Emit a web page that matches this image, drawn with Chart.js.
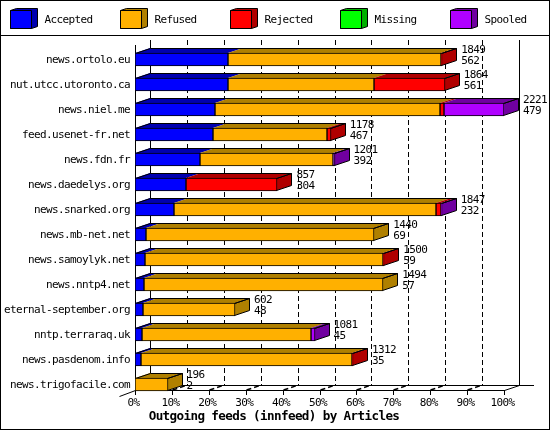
<!DOCTYPE html>
<html>
<head>
<meta charset="utf-8">
<title>Outgoing feeds</title>
<script src="https://cdn.jsdelivr.net/npm/chart.js@4"></script>
<style>
  html, body { margin: 0; padding: 0; background: #fff; }
  canvas { display: block; }
</style>
</head>
<body>
<canvas id="chart" width="550" height="430"></canvas>
<script>
  const feeds = ['news.ortolo.eu', 'nut.utcc.utoronto.ca', 'news.niel.me', 'feed.usenet-fr.net', 'news.fdn.fr',
    'news.daedelys.org', 'news.snarked.org', 'news.mb-net.net', 'news.samoylyk.net', 'news.nntp4.net',
    'eternal-september.org', 'nntp.terraraq.uk', 'news.pasdenom.info', 'news.trigofacile.com'];
  const totals = [1849, 1864, 2221, 1178, 1201, 857, 1847, 1440, 1500, 1494, 602, 1081, 1312, 196];
  const accepted = [562, 561, 479, 467, 392, 304, 232, 69, 59, 57, 48, 45, 35, 2];
  const refused = [1282, 880, 1355, 689, 802, 0, 1578, 1371, 1436, 1437, 554, 1013, 1272, 194];
  const rejected = [5, 423, 28, 22, 0, 553, 30, 0, 5, 0, 0, 0, 5, 0];
  const missing = [0, 0, 0, 0, 0, 0, 0, 0, 0, 0, 0, 0, 0, 0];
  const spooled = [0, 0, 359, 0, 7, 0, 7, 0, 0, 0, 0, 23, 0, 0];
  const tickPercents = [0, 10, 20, 30, 40, 50, 60, 70, 80, 90, 100];
  const maxArticles = 2221;
  const title = 'Outgoing feeds (innfeed) by Articles';

  const mono = 'DejaVu Sans Mono';
  const textSize = 11;
  const squeeze = '-0.62px'; // the original font is narrow, 6px per character
  const depthX = 15, depthY = 5;

  function series(label, data, color, dark) {
    return { label, data, backgroundColor: color, dark, borderColor: '#000', borderWidth: 1, borderSkipped: false };
  }

  function line(ctx, x0, y0, x1, y1) {
    ctx.beginPath();
    ctx.moveTo(x0, y0);
    ctx.lineTo(x1, y1);
    ctx.stroke();
  }

  function poly(ctx, pts, fill, stroke) {
    ctx.beginPath();
    pts.forEach((p, i) => i ? ctx.lineTo(p[0], p[1]) : ctx.moveTo(p[0], p[1]));
    ctx.closePath();
    ctx.fillStyle = fill;
    ctx.fill();
    if (stroke) {
      ctx.strokeStyle = '#000';
      ctx.stroke();
    }
  }

  // gd style chart: frame, legend boxes, back wall and the 3d faces of the bars
  const box3d = {
    id: 'box3d',
    beforeUpdate(chart) {
      chart.ctx.letterSpacing = squeeze;
    },
    beforeDraw(chart) {
      chart.ctx.letterSpacing = squeeze;
    },
    beforeDatasetsDraw(chart) {
      const { ctx, scales: { x } } = chart;
      const floor = 390;
      const back = floor - depthY;
      const left = x.left, right = x.right;

      ctx.save();
      ctx.strokeStyle = '#000';
      ctx.lineWidth = 1;

      // frame
      ctx.strokeRect(0.5, 0.5, 549, 429);
      line(ctx, 0, 35.5, 550, 35.5);

      // legend
      chart.data.datasets.forEach((d, i) => {
        const bx = 10.5 + i * 110, by = 10.5;
        poly(ctx, [[bx, by], [bx + 6, by - 2], [bx + 27, by - 2], [bx + 27, by + 16], [bx + 21, by + 18], [bx, by + 18]], d.dark, true);
        poly(ctx, [[bx, by], [bx + 21, by], [bx + 21, by + 18], [bx, by + 18]], d.backgroundColor, true);
        ctx.fillStyle = '#000';
        ctx.font = textSize + 'px "' + mono + '"';
        ctx.textAlign = 'left';
        ctx.textBaseline = 'middle';
        ctx.fillText(d.label, bx + 34, 20.5);
      });

      // walls and floor
      line(ctx, left + 0.5, 45, left + 0.5, floor + 0.5);
      line(ctx, left + depthX + 0.5, 40, left + depthX + 0.5, back + 0.5);
      line(ctx, right + depthX + 0.5, 40, right + depthX + 0.5, back + 0.5);
      line(ctx, left, floor + 0.5, right + 1, floor + 0.5);
      line(ctx, left + depthX, back + 0.5, right + depthX * 2, back + 0.5);
      line(ctx, right + 0.5, floor + 0.5, right + depthX + 0.5, back + 0.5);
      line(ctx, left + 0.5, floor + 0.5, left - 15.5, floor + 6.5);

      x.ticks.forEach((t, i) => {
        const px = Math.round(x.getPixelForTick(i));
        line(ctx, px + 0.5, floor, px + 0.5, floor + 5);
        if (i > 0 && i < x.ticks.length - 1) {
          ctx.setLineDash([5, 3]);
          line(ctx, px + depthX + 0.5, 40, px + depthX + 0.5, back);
          ctx.lineWidth = 1.5;
          line(ctx, px + 0.5, floor, px + depthX + 0.5, back);
          ctx.lineWidth = 1;
          ctx.setLineDash([]);
        }
      });

      // snap the bars to whole pixels, then draw top and side faces behind them
      const metas = chart.getSortedVisibleDatasetMetas();
      metas.forEach(meta => meta.data.forEach(el => {
        el.x = Math.round(el.x);
        el.base = Math.round(el.base);
      }));
      feeds.forEach((f, row) => {
        const segs = metas.map(m => ({ el: m.data[row], dark: chart.data.datasets[m.index].dark }))
          .filter(s => s.el.x > s.el.base);
        const top = segs[0].el.y - 6.5, bottom = segs[0].el.y + 6.5;
        segs.forEach(s => {
          poly(ctx, [[s.el.base, top], [s.el.base + depthX, top - depthY], [s.el.x + depthX, top - depthY], [s.el.x, top]], s.dark);
        });
        const end = segs[segs.length - 1];
        const x0 = segs[0].el.base + 0.5, x1 = end.el.x - 0.5;
        poly(ctx, [[x1, top + 0.5], [x1 + depthX, top - depthY + 0.5], [x1 + depthX, bottom - depthY - 0.5], [x1, bottom - 0.5]], end.dark, true);
        ctx.beginPath();
        ctx.moveTo(x0, top + 0.5);
        ctx.lineTo(x0 + depthX, top - depthY + 0.5);
        ctx.lineTo(x1 + depthX, top - depthY + 0.5);
        ctx.lineTo(x1, top + 0.5);
        ctx.stroke();
      });
      ctx.restore();
    },
    afterDatasetsDraw(chart) {
      const { ctx, scales: { x, y } } = chart;
      ctx.save();
      ctx.fillStyle = '#000';
      ctx.font = textSize + 'px "' + mono + '"';
      ctx.textAlign = 'left';
      ctx.textBaseline = 'middle';
      feeds.forEach((f, row) => {
        const px = x.getPixelForValue(totals[row]) + depthX + 4;
        const py = y.getPixelForValue(row);
        ctx.fillText(totals[row], px, py - 9);
        ctx.fillText(accepted[row], px, py + 2);
      });
      // axis title is centred on the whole picture, not on the plot
      ctx.font = 'bold 12.6px "' + mono + '"';
      ctx.textAlign = 'center';
      ctx.fillText(title, 274, 417);
      ctx.restore();
    }
  };

  new Chart(document.getElementById('chart'), {
    type: 'bar',
    data: {
      labels: feeds,
      datasets: [
        series('Accepted', accepted, '#0000ff', '#0000b0'),
        series('Refused', refused, '#ffb000', '#b08000'),
        series('Rejected', rejected, '#ff0000', '#b00000'),
        series('Missing', missing, '#00ff00', '#00b000'),
        series('Spooled', spooled, '#b000ff', '#7000a0')
      ]
    },
    options: {
      indexAxis: 'y',
      responsive: false,
      animation: false,
      events: [],
      barThickness: 13,
      layout: { padding: { top: 47, right: 46, left: 0, bottom: 0 } },
      plugins: {
        legend: { display: false },
        tooltip: { enabled: false },
        title: { display: false }
      },
      scales: {
        x: {
          stacked: true,
          min: 0,
          max: maxArticles,
          grid: { display: false, drawTicks: false },
          border: { display: false },
          afterBuildTicks: s => { s.ticks = tickPercents.map(p => ({ value: p * maxArticles / 100 })); },
          afterFit: s => { s.height = 33; },
          ticks: {
            autoSkip: false,
            maxRotation: 0,
            color: '#000',
            padding: 0,
            labelOffset: -1.5,
            font: { family: mono, size: textSize },
            callback: v => Math.round(v / maxArticles * 100) + '%'
          }
        },
        y: {
          stacked: true,
          grid: { display: false, drawTicks: false },
          border: { display: false },
          afterFit: s => { s.width = 135; },
          ticks: {
            autoSkip: false,
            color: '#000',
            padding: 5,
            labelOffset: 1,
            font: { family: mono, size: textSize }
          }
        }
      }
    },
    plugins: [box3d]
  });
</script>
</body>
</html>
